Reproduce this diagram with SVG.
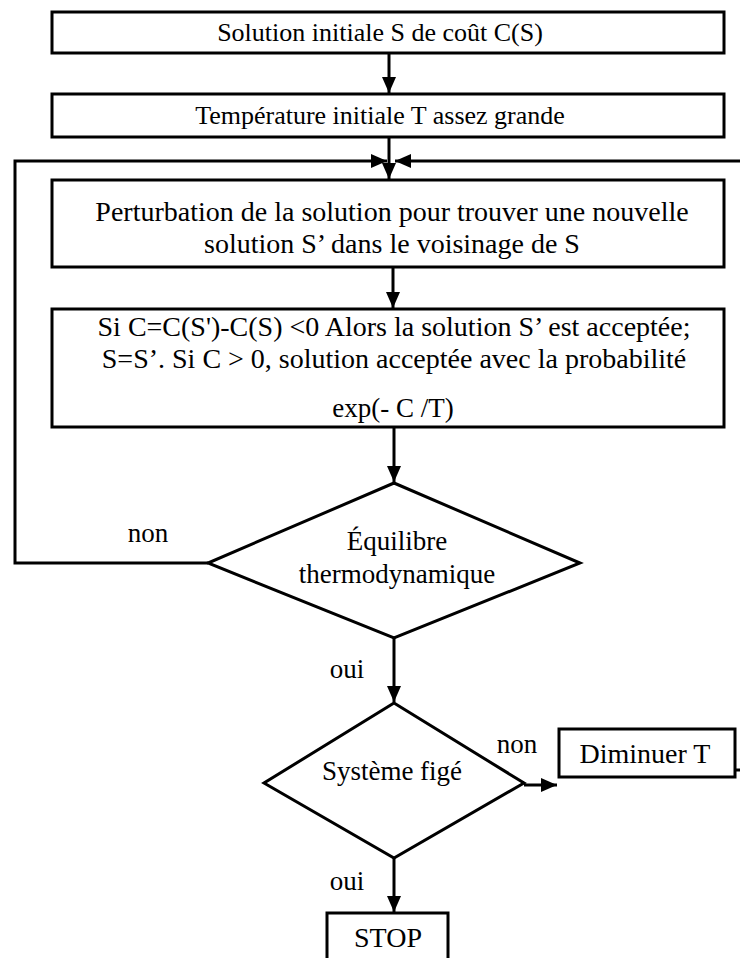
<svg xmlns="http://www.w3.org/2000/svg" width="740" height="958" viewBox="0 0 740 958">
<defs>
<marker id="ah" viewBox="0 0 16 14" refX="16" refY="7" markerWidth="16" markerHeight="14" markerUnits="userSpaceOnUse" orient="auto">
<path d="M0,0 L16,7 L0,14 z" fill="#000"/>
</marker>
<style>
.box{fill:#fff;stroke:#000;stroke-width:3}
.ln{fill:none;stroke:#000;stroke-width:3}
.arr{fill:none;stroke:#000;stroke-width:3;marker-end:url(#ah)}
text{font-family:"Liberation Serif","Times New Roman",serif;font-size:27px;fill:#000;text-anchor:middle}
.t26{font-size:26px}
.t28{font-size:28px}
</style>
</defs>
<rect width="740" height="958" fill="#fff"/>
<g id="connectors">
<line class="arr" x1="389" y1="53" x2="389" y2="93"/>
<line class="arr" x1="389" y1="137" x2="389" y2="179"/>
<polyline class="arr" points="208,563 15,563 15,161 387,161"/>
<line class="arr" x1="740" y1="161" x2="395" y2="161"/>
<line class="arr" x1="393" y1="267" x2="393" y2="308"/>
<line class="arr" x1="394" y1="427" x2="394" y2="482"/>
<line class="arr" x1="394" y1="638" x2="394" y2="702"/>
<line class="arr" x1="524" y1="785" x2="557" y2="785"/>
<line class="arr" x1="394" y1="858" x2="394" y2="912"/>
<line class="ln" x1="735" y1="770" x2="740" y2="770"/>
</g>
<g id="n1"><rect class="box" x="52" y="12" width="672" height="41"/><text class="t26" x="380" y="41">Solution initiale S de coût C(S)</text></g>
<g id="n2"><rect class="box" x="52" y="94" width="672" height="43"/><text class="t26" x="380" y="124">Température initiale T assez grande</text></g>
<g id="n3"><rect class="box" x="52" y="180" width="672" height="87"/><text class="t28" x="392" y="221">Perturbation de la solution pour trouver une nouvelle</text><text class="t28" x="392" y="253">solution S’ dans le voisinage de S</text></g>
<g id="n4"><rect class="box" x="52" y="309" width="672" height="118"/><text class="t28" x="394" y="336">Si C=C(S')-C(S) &lt;0 Alors la solution S’ est acceptée;</text><text class="t28" x="394" y="368">S=S’. Si C &gt; 0, solution acceptée avec la probabilité</text><text x="393" y="417">exp(- C /T)</text></g>
<g id="d1"><polygon class="box" points="394,483 580,563 394,638 208,563"/><text x="397" y="550">Équilibre</text><text x="397" y="583">thermodynamique</text></g>
<g id="d2"><polygon class="box" points="394,703 524,783 394,858 264,783"/><text x="392" y="780">Système figé</text></g>
<g id="n5"><rect class="box" x="559" y="729" width="176" height="48"/><text class="t28" x="645" y="763">Diminuer T</text></g>
<g id="n6"><rect class="box" x="327" y="913" width="121" height="50"/><text class="t28" x="388" y="947">STOP</text></g>
<g id="labels">
<text x="148" y="542">non</text>
<text x="347" y="678">oui</text>
<text x="517" y="753">non</text>
<text x="347" y="890">oui</text>
</g>
</svg>
